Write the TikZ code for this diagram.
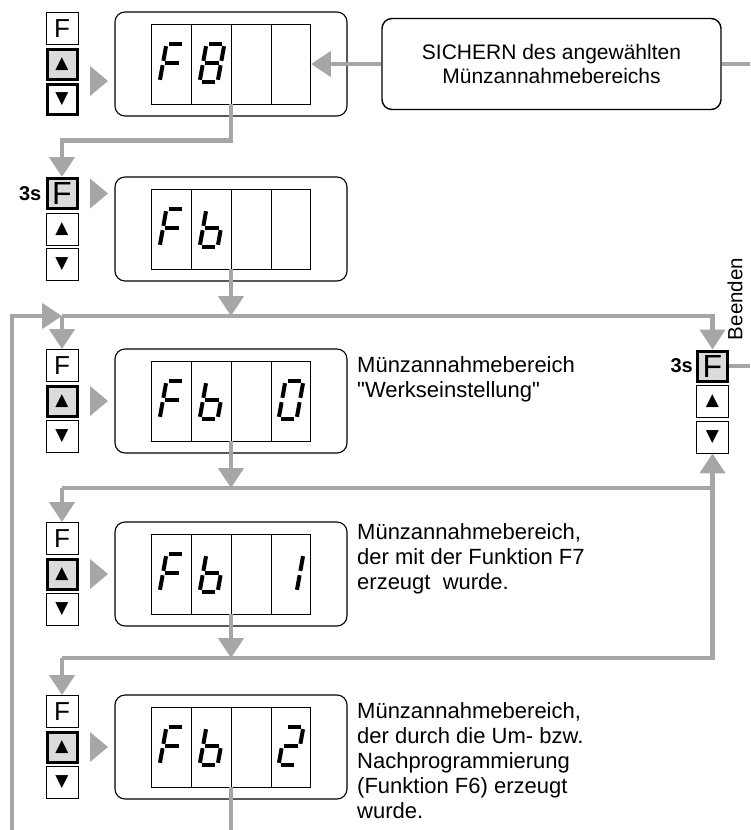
\documentclass[tikz,border=0pt]{standalone}
\usepackage{fontspec}
\setmainfont{Liberation Sans}[Ligatures=TeXOff]
\newfontfamily\symfont{DejaVu Sans}
\usetikzlibrary{arrows.meta}

% seven-segment strokes, local glyph frame (centre at 0,0)
\newcommand{\segA}{-6.8/-19/6.8/-19}
\newcommand{\segB}{9/-16.8/9/-2.2}
\newcommand{\segC}{9/2.2/9/16.8}
\newcommand{\segD}{-6.8/19/6.8/19}
\newcommand{\segE}{-9/2.2/-9/16.8}
\newcommand{\segF}{-9/-16.8/-9/-2.2}
\newcommand{\segG}{-6.8/0/6.8/0}
\newcommand{\segdigit}[3]{%
  \edef\seglist{#3}%
  \begin{scope}[shift={(#1,#2)}, xslant=.18]
    \foreach \xa/\ya/\xb/\yb in \seglist {\draw[seg] (\xa,\ya) -- (\xb,\yb);}
  \end{scope}}

\begin{document}
\begin{tikzpicture}[x=1pt, y=-1pt,
  link/.style={draw=black!35, line width=4.5pt},
  arrowlink/.style={link, -{Triangle[length=20pt, width=25pt]}},
  panel/.style={draw, line width=1.1pt, rounded corners=10pt, minimum width=232pt, minimum height=104pt},
  digits/.style={draw, line width=.9pt, minimum width=159pt, minimum height=80pt},
  seg/.style={line width=4pt},
  key/.style={draw, line width=.9pt, fill=white, minimum size=32pt, inner sep=0pt, font=\fontsize{26}{26}\selectfont},
  keythick/.style={key, line width=3pt, minimum size=30pt},
  keyon/.style={keythick, fill=black!14, font=\fontsize{32}{32}\selectfont},
  pointer/.style={fill=black!35},
  desc/.style={anchor=base west, align=left, inner sep=0pt, font=\fontsize{22}{25}\selectfont},
  secs/.style={inner sep=0pt, font=\bfseries\fontsize{20}{20}\selectfont}
]
  \useasboundingbox (0,0) rectangle (750,830);

  % display rows with their key columns
  \foreach \r/\ty/\fk/\uk/\dk/\py in {1/12/key/keyon/keythick/81, 2/177/keyon/key/key/193.5, 3/349/key/keyon/key/401, 4/522/key/keyon/key/574, 5/695/key/keyon/key/747} {
    \node[panel] (disp\r) at (231,\ty+52) {};
    \node[digits] (dig\r) at (231,\ty+52) {};
    \foreach \i in {1,2,3} \draw[line width=.9pt] (152+39.75*\i,\ty+12) -- ++(0,80);
    \node[\fk] (f\r) at (62,\ty+16.5) {F};
    \node[\uk] (u\r) at (62,\ty+52) {\symfont\fontsize{17}{17}\selectfont ▲};
    \node[\dk] (d\r) at (62,\ty+87.5) {\symfont\fontsize{17}{17}\selectfont ▼};
    \fill[pointer] (90,\py-15) -- (108,\py) -- (90,\py+15) -- cycle;
  }

  % digits
  \segdigit{172}{63}{\segA,\segE,\segF,\segG}
  \segdigit{212}{63}{\segA,\segB,\segC,\segD,\segE,\segF,\segG}
  \segdigit{172}{228}{\segA,\segE,\segF,\segG}
  \segdigit{212}{228}{\segC,\segD,\segE,\segF,\segG}
  \foreach \cy/\last in {400/{\segA,\segB,\segC,\segD,\segE,\segF}, 573/{\segB,\segC}, 746/{\segA,\segB,\segG,\segE,\segD}} {
    \segdigit{172}{\cy}{\segA,\segE,\segF,\segG}
    \segdigit{212}{\cy}{\segC,\segD,\segE,\segF,\segG}
    \segdigit{291}{\cy}{\last}
  }

  % exit key column
  \node[keyon] (fR) at (712.5,366) {F};
  \node[key] (uR) at (712.5,401) {\symfont\fontsize{17}{17}\selectfont ▲};
  \node[key] (dR) at (712.5,437) {\symfont\fontsize{17}{17}\selectfont ▼};
  \node[secs, anchor=east] (s2) at ([xshift=-4pt]f2.west) {3s};
  \node[secs, anchor=east] (sR) at ([xshift=-3pt]fR.west) {3s};
  \node[rotate=90, inner sep=0pt, font=\fontsize{20.5}{20.5}\selectfont] (quit) at (735,299) {Beenden};

  \node[draw, line width=1.4pt, rounded corners=10pt, minimum width=339pt, minimum height=91pt, align=center, font=\fontsize{21}{24.5}\selectfont] (save) at (551.5,64) {SICHERN des angewählten\\Münzannahmebereichs};

  \node[desc] (txt3) at (357,397) {Münzannahmebereich\\"Werkseinstellung"};
  \node[desc] (txt4) at (357,589) {Münzannahmebereich,\\der mit der Funktion F7\\erzeugt~ wurde.};
  \node[desc] (txt5) at (357,818) {Münzannahmebereich,\\der durch die Um- bzw.\\Nachprogrammierung\\(Funktion F6) erzeugt\\wurde.};

  % connectors
  \coordinate (busA) at (62,316);
  \coordinate (busB) at (62,488);
  \coordinate (busC) at (62,658);
  \coordinate (loopEnd) at (12,830);
  \coordinate (outTop) at (750,64);
  \coordinate (outMid) at (750,366);

  \draw[arrowlink] (save.west) -- (dig1.east);
  \draw[link] (save.east) -- (outTop);
  \draw[arrowlink] (dig1.south) -- ++(0,36) -| (f2.north);
  \draw[arrowlink] (dig2.south) -- (dig2.south |- busA);
  \draw[arrowlink] (loopEnd) |- (busA);
  \draw[arrowlink] (busA) -- (f3.north);
  \draw[arrowlink] (busA) -| (fR.north);
  \draw[arrowlink] (dig3.south) -- (dig3.south |- busB);
  \draw[link] (busB) -- (busB -| dR.south);
  \draw[arrowlink] (busB) -- (f4.north);
  \draw[arrowlink] (dig4.south) -- (dig4.south |- busC);
  \draw[arrowlink] (busC) -| (dR.south);
  \draw[arrowlink] (busC) -- (f5.north);
  \draw[link] (dig5.south) -- (dig5.south |- loopEnd);
  \draw[link] (fR.east) -- (outMid);
\end{tikzpicture}
\end{document}
